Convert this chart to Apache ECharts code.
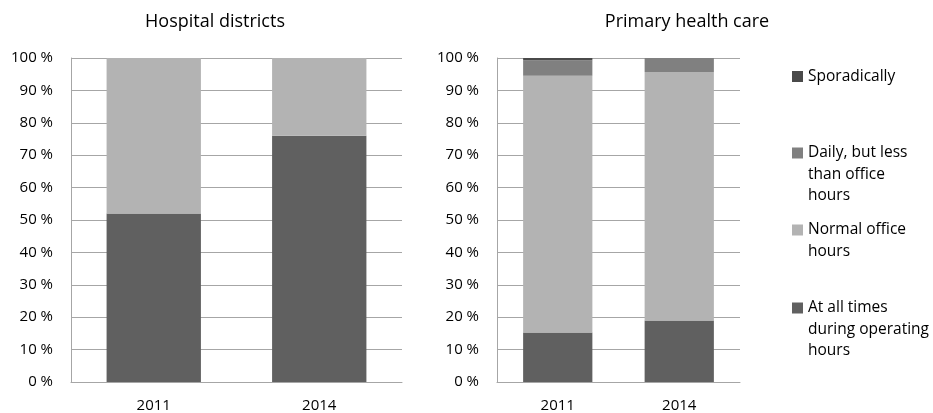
<!DOCTYPE html>
<html>
<head>
<meta charset="utf-8">
<script src="https://cdn.jsdelivr.net/npm/echarts@6/dist/echarts.min.js"></script>
<style>html,body{margin:0;padding:0;background:#fff}#c{width:933px;height:413px}</style>
</head>
<body>
<div id="c"></div>
<script>
const categories = ['2011', '2014'];
const hospAllTimes = [52, 76];
const hospNormal = [48, 24];
const phcAllTimes = [15.3, 19.0];
const phcNormal = [79.2, 76.7];
const phcDaily = [4.8, 4.3];
const phcSporadic = [0.7, 0];
const seriesNames = ['At all times\nduring operating\nhours', 'Normal office\nhours', 'Daily, but less\nthan office\nhours', 'Sporadically'];

const colors = {all: '#606060', normal: '#b3b3b3', daily: '#808080', spor: '#4a4a4a'};
const font = 'Open Sans, Noto Sans, sans-serif';
const LH = 21.5;

function yAxis(gi) {
  return {
    type: 'value', gridIndex: gi, min: 0, max: 100, interval: 10,
    axisLine: {show: true, lineStyle: {color: '#a6a6a6', width: 1}},
    axisTick: {show: false},
    splitLine: {lineStyle: {color: '#a6a6a6', width: 1}},
    axisLabel: {formatter: v => v + ' %', color: '#000', fontSize: 15, fontFamily: font, margin: 18}
  };
}
function xAxis(gi) {
  return {
    type: 'category', gridIndex: gi, data: categories,
    axisLine: {show: true, lineStyle: {color: '#a6a6a6', width: 1}},
    axisTick: {show: false},
    axisLabel: {color: '#000', fontSize: 15, fontFamily: font, margin: 16}
  };
}
function bar(name, data, gi, color, stack) {
  return {
    name, type: 'bar', xAxisIndex: gi, yAxisIndex: gi, stack, data,
    barWidth: '57%', itemStyle: {color}, emphasis: {disabled: true}, animation: false
  };
}
function legend(name, iconCenter) {
  const n = name.split('\n').length;
  const blank = '\n'.repeat(n - 1);
  return {
    data: [name], orient: 'vertical', left: 792, top: iconCenter - (2 * n - 1) * LH / 2,
    padding: 0, itemWidth: 11, itemHeight: 11, itemGap: 0, selectedMode: false, icon: 'rect',
    formatter: t => blank + t,
    textStyle: {fontSize: 15.5, fontFamily: font, color: '#000', lineHeight: LH}
  };
}

const chart = echarts.init(document.getElementById('c'));
chart.setOption({
  animation: false,
  title: [
    {text: 'Hospital districts', left: 210, textAlign: 'center', top: 8, textStyle: {fontSize: 18, fontWeight: 'normal', fontFamily: font, color: '#000'}},
    {text: 'Primary health care', left: 682, textAlign: 'center', top: 8, textStyle: {fontSize: 18, fontWeight: 'normal', fontFamily: font, color: '#000'}}
  ],
  grid: [
    {left: 71, right: 531, top: 58, bottom: 31},
    {left: 497, right: 193, top: 58, bottom: 31}
  ],
  xAxis: [xAxis(0), xAxis(1)],
  yAxis: [yAxis(0), yAxis(1)],
  legend: [
    legend(seriesNames[3], 76.5),
    legend(seriesNames[2], 153),
    legend(seriesNames[1], 230),
    legend(seriesNames[0], 308)
  ],
  series: [
    bar(seriesNames[0], hospAllTimes, 0, colors.all, 'h'),
    bar(seriesNames[1], hospNormal, 0, colors.normal, 'h'),
    bar(seriesNames[0], phcAllTimes, 1, colors.all, 'p'),
    bar(seriesNames[1], phcNormal, 1, colors.normal, 'p'),
    bar(seriesNames[2], phcDaily, 1, colors.daily, 'p'),
    bar(seriesNames[3], phcSporadic, 1, colors.spor, 'p')
  ]
});
</script>
</body>
</html>
